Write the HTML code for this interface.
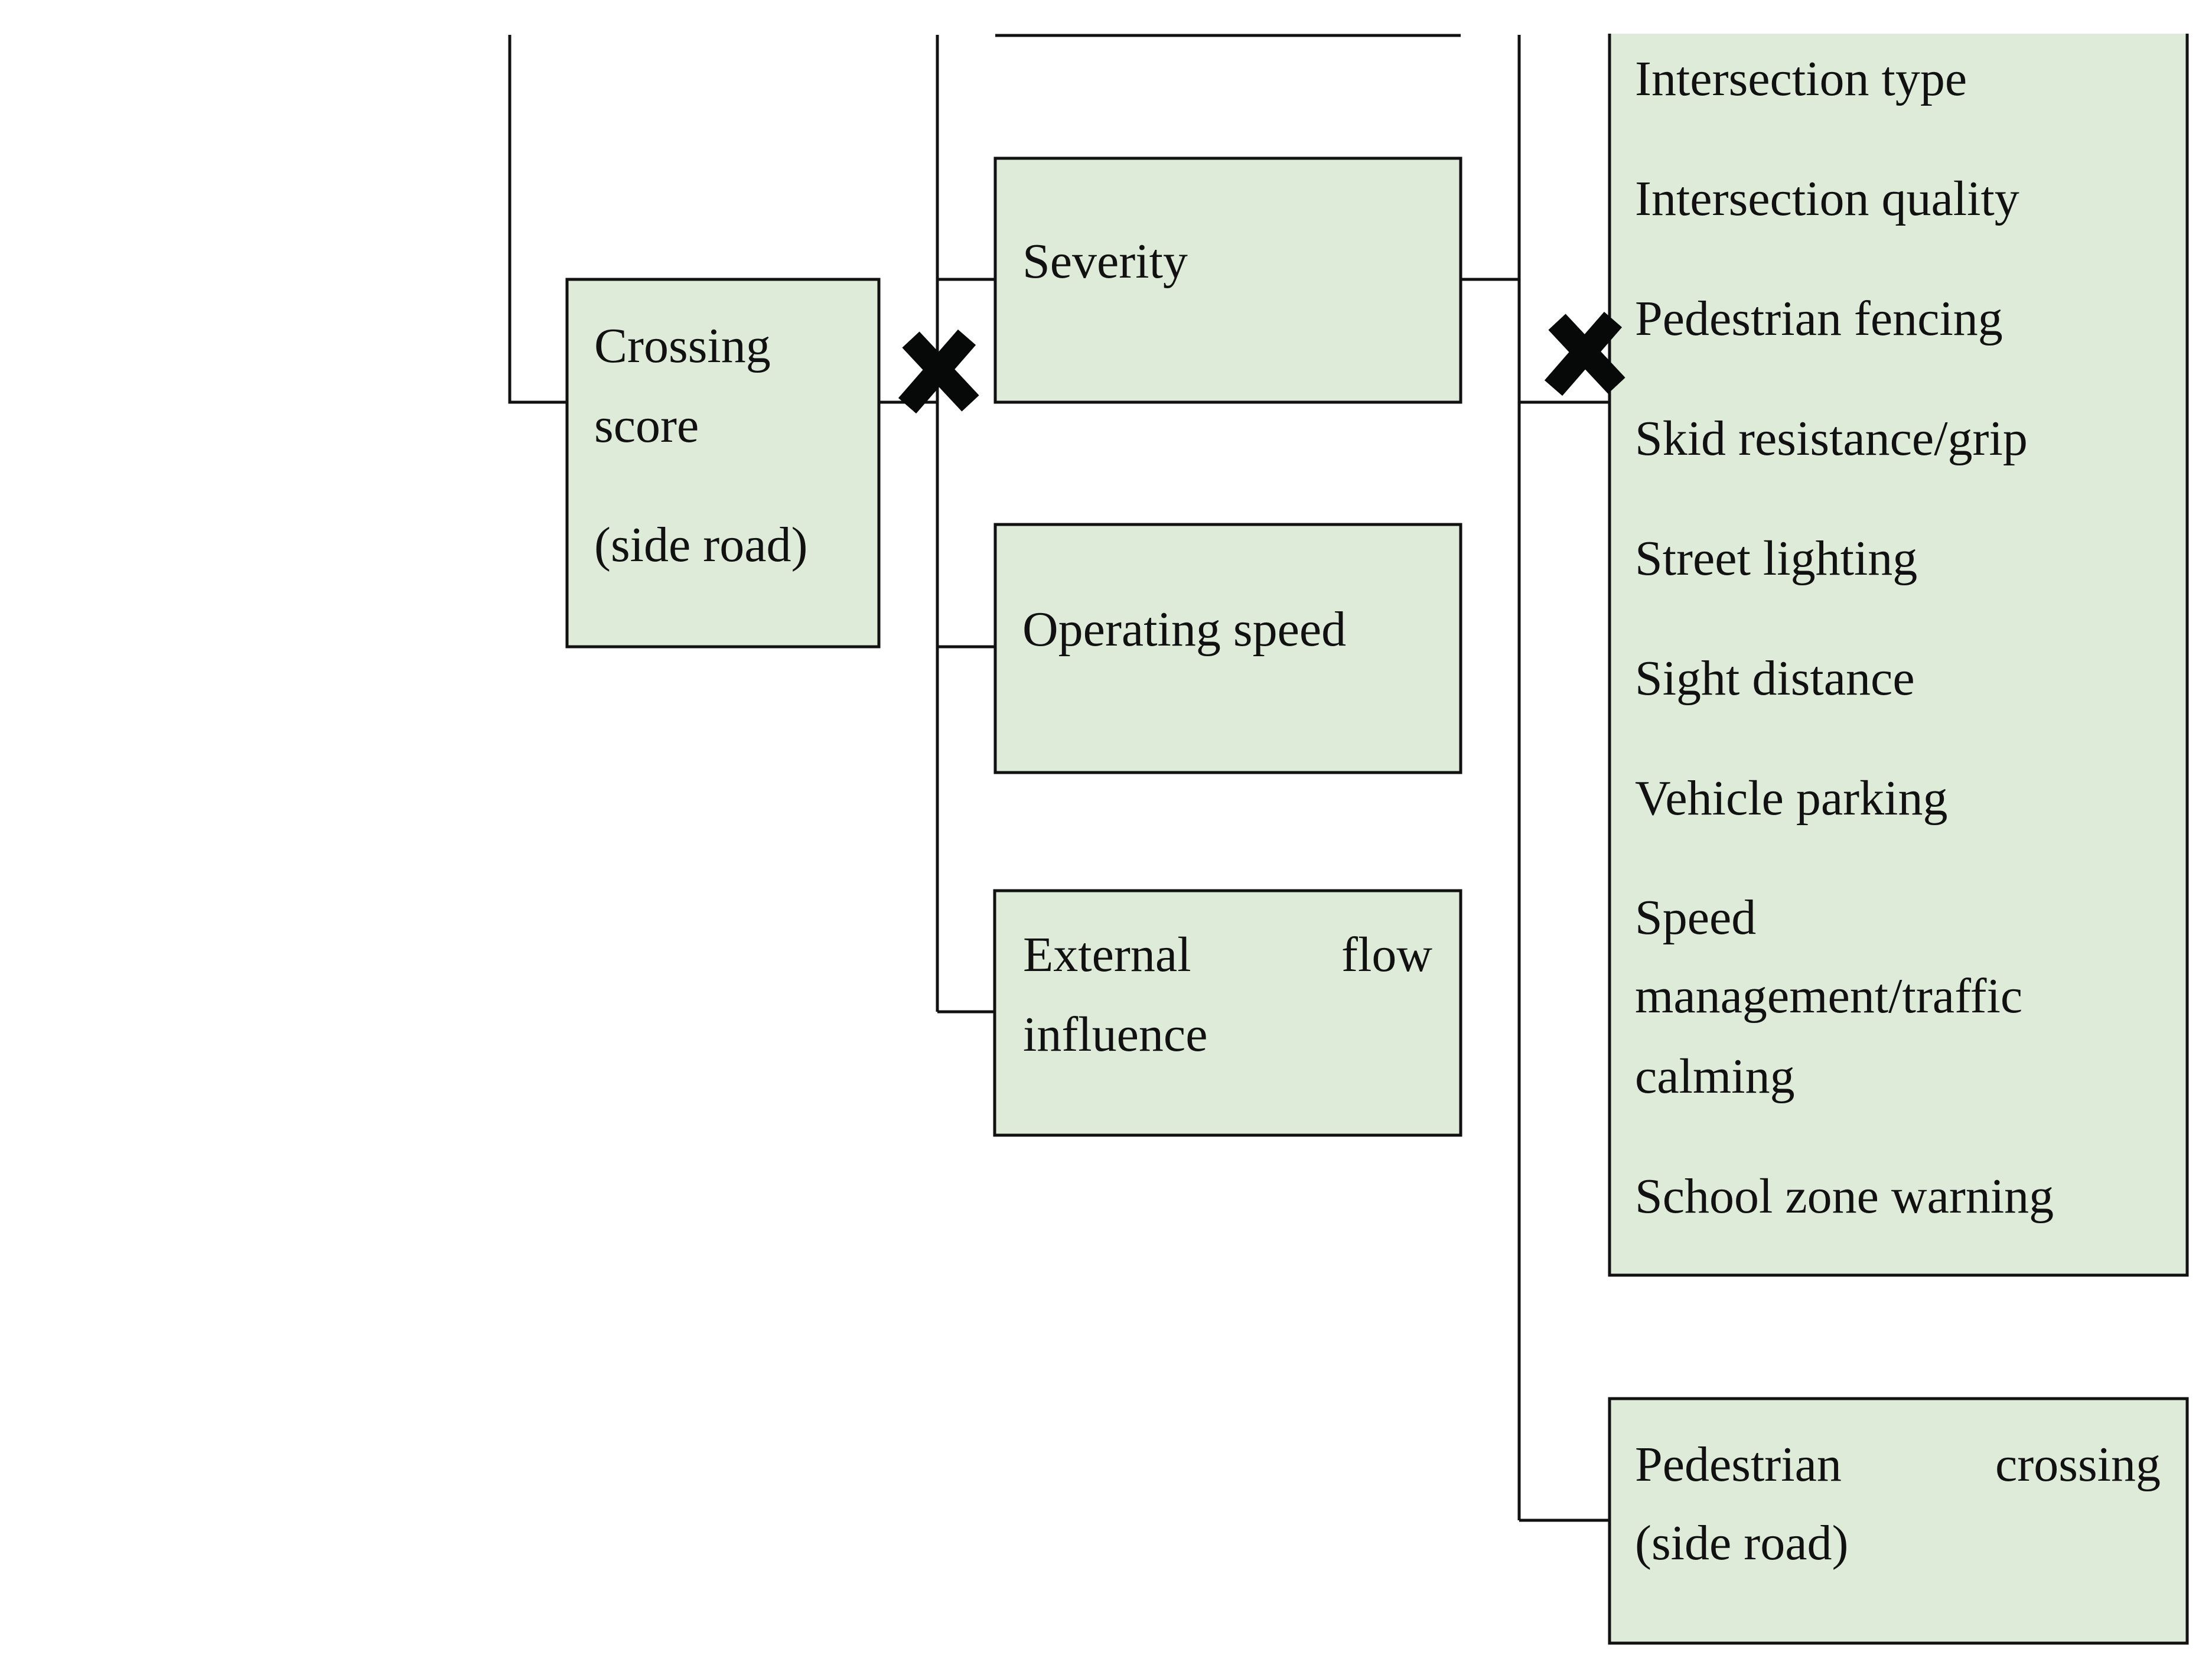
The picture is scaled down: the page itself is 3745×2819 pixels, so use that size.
<!DOCTYPE html>
<html><head><meta charset="utf-8"><style>
html,body{margin:0;padding:0;background:#fff;}
svg{display:block;}
text{font-family:"Liberation Serif",serif;font-size:84px;fill:#111;}
</style></head><body>
<svg width="3745" height="2819" viewBox="0 0 3745 2819" xmlns="http://www.w3.org/2000/svg">
<g fill="#deebd9" stroke="#111" stroke-width="5">
<rect x="960" y="473" width="528" height="622"/>
<rect x="1685" y="268" width="788" height="413"/>
<rect x="1685" y="888" width="788" height="420"/>
<rect x="1684" y="1508" width="789" height="414"/>
<rect x="2725" y="2368" width="978" height="414"/>
</g>
<rect x="2725" y="57" width="978" height="2102" fill="#deebd9"/>
<g stroke="#111" stroke-width="5" fill="none">
<polyline points="2725,57 2725,2159 3703,2159 3703,57"/>
<line x1="1685" y1="60" x2="2473" y2="60"/>
<polyline points="863,59 863,681 960,681"/>
<line x1="1488" y1="681" x2="1587" y2="681"/>
<line x1="1587" y1="59" x2="1587" y2="1713"/>
<line x1="1587" y1="473" x2="1685" y2="473"/>
<line x1="1587" y1="1095" x2="1685" y2="1095"/>
<line x1="1587" y1="1713" x2="1684" y2="1713"/>
<line x1="2473" y1="473" x2="2572" y2="473"/>
<line x1="2572" y1="59" x2="2572" y2="2574"/>
<line x1="2572" y1="681" x2="2725" y2="681"/>
<line x1="2572" y1="2574" x2="2725" y2="2574"/>
</g>
<g stroke="#070909" stroke-width="40">
<line x1="1542" y1="575" x2="1643" y2="683"/>
<line x1="1637" y1="571" x2="1536" y2="687"/>
<line x1="2636" y1="545" x2="2737" y2="653"/>
<line x1="2731" y1="541" x2="2630" y2="657"/>
</g>
<text x="1006" y="613">Crossing</text>
<text x="1006" y="748">score</text>
<text x="1006" y="950">(side road)</text>
<text x="1731" y="470">Severity</text>
<text x="1731" y="1093">Operating speed</text>
<text x="1732" y="1644">External</text>
<text x="2425" y="1644" text-anchor="end">flow</text>
<text x="1732" y="1779">influence</text>
<text x="2768" y="161">Intersection type</text>
<text x="2768" y="364">Intersection quality</text>
<text x="2768" y="567">Pedestrian fencing</text>
<text x="2768" y="770">Skid resistance/grip</text>
<text x="2768" y="973">Street lighting</text>
<text x="2768" y="1176">Sight distance</text>
<text x="2768" y="1379">Vehicle parking</text>
<text x="2768" y="1581">Speed</text>
<text x="2768" y="1714">management/traffic</text>
<text x="2768" y="1850">calming</text>
<text x="2768" y="2053">School zone warning</text>
<text x="2768" y="2507">Pedestrian</text>
<text x="3658" y="2507" text-anchor="end">crossing</text>
<text x="2768" y="2640">(side road)</text>
</svg>
</body></html>
